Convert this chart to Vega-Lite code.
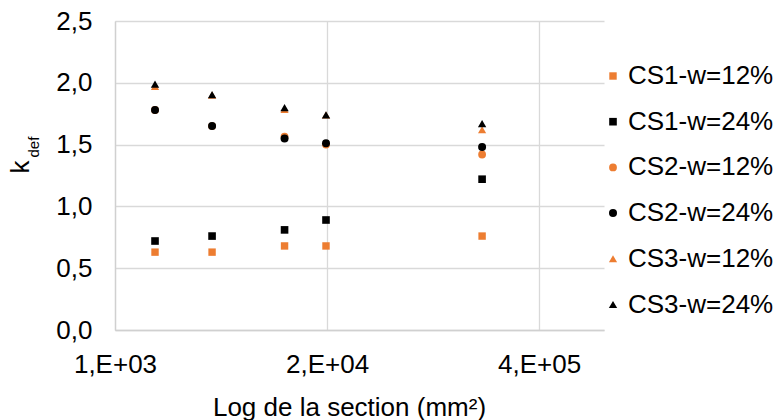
{
  "$schema": "https://vega.github.io/schema/vega-lite/v6.json",
  "width": 489,
  "height": 309,
  "autosize": {"type": "none"},
  "padding": {"left": 115, "top": 21, "right": 177, "bottom": 90},
  "background": "white",
  "config": {
    "font": "Liberation Sans",
    "view": {"stroke": null},
    "axis": {"labelFont": "Liberation Sans", "titleFont": "Liberation Sans", "labelColor": "#000000", "titleColor": "#000000", "titleFontWeight": "normal", "gridColor": "#d9d9d9", "gridWidth": 1.3, "domainColor": "#d0d0d0", "domainWidth": 1.3, "ticks": false},
    "legend": {"labelFont": "Liberation Sans", "labelColor": "#000000"}
  },
  "data": {"values": [
    {"series": "CS1-w=12%", "w": "12", "section": 1760, "kdef": 0.63},
    {"series": "CS1-w=12%", "w": "12", "section": 3940, "kdef": 0.63},
    {"series": "CS1-w=12%", "w": "12", "section": 10970, "kdef": 0.68},
    {"series": "CS1-w=12%", "w": "12", "section": 19700, "kdef": 0.68},
    {"series": "CS1-w=12%", "w": "12", "section": 178700, "kdef": 0.76},
    {"series": "CS1-w=24%", "w": "24", "section": 1760, "kdef": 0.72},
    {"series": "CS1-w=24%", "w": "24", "section": 3940, "kdef": 0.76},
    {"series": "CS1-w=24%", "w": "24", "section": 10970, "kdef": 0.81},
    {"series": "CS1-w=24%", "w": "24", "section": 19700, "kdef": 0.89},
    {"series": "CS1-w=24%", "w": "24", "section": 178700, "kdef": 1.22},
    {"series": "CS2-w=12%", "w": "12", "section": 1760, "kdef": 1.78},
    {"series": "CS2-w=12%", "w": "12", "section": 3940, "kdef": 1.65},
    {"series": "CS2-w=12%", "w": "12", "section": 10970, "kdef": 1.565},
    {"series": "CS2-w=12%", "w": "12", "section": 19700, "kdef": 1.50},
    {"series": "CS2-w=12%", "w": "12", "section": 178700, "kdef": 1.42},
    {"series": "CS2-w=24%", "w": "24", "section": 1760, "kdef": 1.78},
    {"series": "CS2-w=24%", "w": "24", "section": 3940, "kdef": 1.65},
    {"series": "CS2-w=24%", "w": "24", "section": 10970, "kdef": 1.55},
    {"series": "CS2-w=24%", "w": "24", "section": 19700, "kdef": 1.51},
    {"series": "CS2-w=24%", "w": "24", "section": 178700, "kdef": 1.48},
    {"series": "CS3-w=12%", "w": "12", "section": 1760, "kdef": 1.97},
    {"series": "CS3-w=12%", "w": "12", "section": 3940, "kdef": 1.90},
    {"series": "CS3-w=12%", "w": "12", "section": 10970, "kdef": 1.785},
    {"series": "CS3-w=12%", "w": "12", "section": 19700, "kdef": 1.74},
    {"series": "CS3-w=12%", "w": "12", "section": 178700, "kdef": 1.62},
    {"series": "CS3-w=24%", "w": "24", "section": 1760, "kdef": 1.99},
    {"series": "CS3-w=24%", "w": "24", "section": 3940, "kdef": 1.905},
    {"series": "CS3-w=24%", "w": "24", "section": 10970, "kdef": 1.80},
    {"series": "CS3-w=24%", "w": "24", "section": 19700, "kdef": 1.74},
    {"series": "CS3-w=24%", "w": "24", "section": 178700, "kdef": 1.67}
  ]},
  "encoding": {
    "x": {
      "field": "section", "type": "quantitative",
      "scale": {"type": "log", "base": 20, "domain": [1000, 1000000], "nice": false, "zero": false},
      "axis": {
        "title": "Log de la section (mm²)", "titleFontSize": 26, "titleX": 234, "titleY": 85, "titleBaseline": "alphabetic", "titleAlign": "center",
        "values": [1000, 20000, 400000],
        "labelExpr": "format(datum.value / pow(10, floor(log(datum.value) / LN10 + 1e-9)), '.0f') + ',E+' + (floor(log(datum.value) / LN10 + 1e-9) < 10 ? '0' : '') + floor(log(datum.value) / LN10 + 1e-9)",
        "labelFontSize": 26, "labelPadding": 21, "grid": true, "labelFlush": false
      }
    },
    "color": {
      "field": "series", "type": "nominal",
      "scale": {"domain": ["CS1-w=12%", "CS1-w=24%", "CS2-w=12%", "CS2-w=24%", "CS3-w=12%", "CS3-w=24%"], "range": ["#ED7D31", "#000000", "#ED7D31", "#000000", "#ED7D31", "#000000"]},
      "legend": {"title": null, "orient": "none", "legendX": 485, "legendY": 42, "labelFontSize": 26, "symbolSize": 50, "rowPadding": 19.7, "labelOffset": 2, "padding": 0, "symbolStrokeWidth": 0, "labelLimit": 300}
    },
    "shape": {
      "field": "series", "type": "nominal",
      "scale": {"domain": ["CS1-w=12%", "CS1-w=24%", "CS2-w=12%", "CS2-w=24%", "CS3-w=12%", "CS3-w=24%"], "range": ["square", "square", "circle", "circle", "triangle-up", "triangle-up"]},
      "legend": {"title": null, "orient": "none", "legendX": 485, "legendY": 42, "labelFontSize": 26, "symbolSize": 50, "rowPadding": 19.7, "labelOffset": 2, "padding": 0, "symbolStrokeWidth": 0, "labelLimit": 300}
    },
    "size": {
      "field": "series", "type": "nominal",
      "scale": {"domain": ["CS1-w=12%", "CS1-w=24%", "CS2-w=12%", "CS2-w=24%", "CS3-w=12%", "CS3-w=24%"], "range": [55, 70, 64, 64, 95, 95]},
      "legend": null
    }
  },
  "layer": [
    {
      "transform": [{"filter": "datum.w == '12'"}],
      "mark": {"type": "point", "filled": true, "opacity": 1},
      "encoding": {
        "y": {
          "field": "kdef", "type": "quantitative",
          "scale": {"domain": [0, 2.5], "nice": false, "zero": true},
          "axis": {
            "title": "k", "titleFontSize": 26, "titleAngle": -90, "titleX": -87, "titleY": 152, "titleAlign": "left", "titleBaseline": "alphabetic",
            "values": [0, 0.5, 1, 1.5, 2, 2.5],
            "labelExpr": "replace(format(datum.value, '.1f'), '.', ',')",
            "labelFontSize": 26, "labelPadding": 23, "grid": true
          }
        }
      }
    },
    {
      "transform": [{"filter": "datum.w == '24'"}],
      "mark": {"type": "point", "filled": true, "opacity": 1},
      "encoding": {
        "y": {
          "field": "kdef", "type": "quantitative",
          "axis": {
            "orient": "left", "title": "def", "titleFontSize": 15, "titleAngle": -90, "titleX": -77, "titleY": 136, "titleAlign": "left", "titleBaseline": "alphabetic",
            "labels": false, "domain": false, "grid": false, "ticks": false
          }
        }
      }
    }
  ],
  "resolve": {"axis": {"y": "independent"}}
}
